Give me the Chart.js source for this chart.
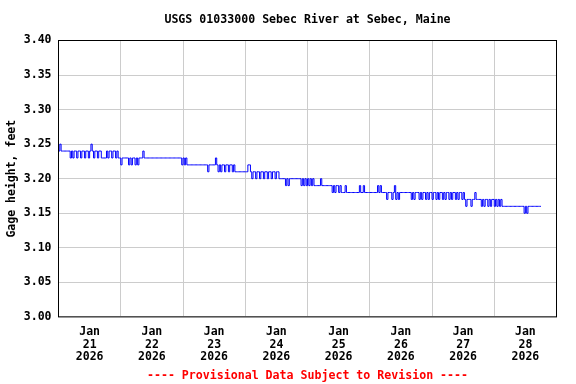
<!DOCTYPE html>
<html><head><meta charset="utf-8">
<script src="https://cdn.jsdelivr.net/npm/chart.js@4"></script>
<style>html,body{margin:0;padding:0;background:#fff}canvas{display:block}</style>
</head><body>
<canvas id="c" width="576" height="384"></canvas>
<script>
// Gage height (feet), 30-minute readings starting at midnight of each day
const jan21 = [3.25,3.24,3.25,3.24,3.24,3.24,3.24,3.24,3.24,3.24,
               3.23,3.24,3.23,3.24,3.24,3.23,3.24,3.24,3.23,3.24,
               3.24,3.23,3.24,3.24,3.23,3.24,3.25,3.24,3.23,3.24,
               3.24,3.23,3.24,3.24,3.23,3.23,3.23,3.23,3.24,3.23,
               3.24,3.24,3.23,3.24,3.24,3.23,3.24,3.23];
const jan22 = [3.23,3.22,3.23,3.23,3.23,3.23,3.23,3.22,3.23,3.22,
               3.23,3.23,3.22,3.23,3.22,3.23,3.23,3.23,3.24,3.23,
               3.23,3.23,3.23,3.23,3.23,3.23,3.23,3.23,3.23,3.23,
               3.23,3.23,3.23,3.23,3.23,3.23,3.23,3.23,3.23,3.23,
               3.23,3.23,3.23,3.23,3.23,3.23,3.23,3.23];
const jan23 = [3.22,3.23,3.22,3.23,3.22,3.22,3.22,3.22,3.22,3.22,
               3.22,3.22,3.22,3.22,3.22,3.22,3.22,3.22,3.22,3.22,
               3.21,3.22,3.22,3.22,3.22,3.22,3.23,3.22,3.21,3.22,
               3.21,3.22,3.22,3.21,3.22,3.22,3.21,3.22,3.22,3.21,
               3.22,3.21,3.21,3.21,3.21,3.21,3.21,3.21];
const jan24 = [3.21,3.21,3.21,3.22,3.22,3.21,3.20,3.21,3.21,3.20,
               3.21,3.21,3.20,3.21,3.21,3.20,3.21,3.21,3.20,3.21,
               3.21,3.20,3.21,3.21,3.20,3.21,3.21,3.20,3.20,3.20,
               3.20,3.20,3.19,3.20,3.19,3.20,3.20,3.20,3.20,3.20,
               3.20,3.20,3.20,3.20,3.19,3.20,3.19,3.20];
const jan25 = [3.19,3.20,3.19,3.20,3.19,3.20,3.19,3.19,3.19,3.19,
               3.19,3.20,3.19,3.19,3.19,3.19,3.19,3.19,3.19,3.19,
               3.18,3.19,3.18,3.19,3.19,3.18,3.19,3.18,3.18,3.18,
               3.19,3.18,3.18,3.18,3.18,3.18,3.18,3.18,3.18,3.18,
               3.18,3.19,3.18,3.18,3.19,3.18,3.18,3.18];
const jan26 = [3.18,3.18,3.18,3.18,3.18,3.18,3.18,3.19,3.18,3.19,
               3.18,3.18,3.18,3.18,3.17,3.18,3.18,3.18,3.17,3.18,
               3.19,3.17,3.18,3.17,3.18,3.18,3.18,3.18,3.18,3.18,
               3.18,3.18,3.18,3.17,3.18,3.17,3.18,3.18,3.18,3.17,
               3.18,3.17,3.18,3.18,3.17,3.18,3.17,3.18];
const jan27 = [3.18,3.17,3.18,3.18,3.17,3.18,3.17,3.18,3.18,3.17,
               3.18,3.17,3.18,3.18,3.17,3.18,3.17,3.18,3.18,3.17,
               3.18,3.17,3.18,3.18,3.17,3.18,3.17,3.16,3.17,3.17,
               3.17,3.16,3.17,3.17,3.18,3.17,3.17,3.17,3.17,3.16,
               3.17,3.16,3.17,3.17,3.16,3.17,3.16,3.17];
const jan28 = [3.17,3.16,3.17,3.16,3.17,3.16,3.17,3.16,3.16,3.16,
               3.16,3.16,3.16,3.16,3.16,3.16,3.16,3.16,3.16,3.16,
               3.16,3.16,3.16,3.16,3.15,3.16,3.15,3.16,3.16,3.16,
               3.16,3.16,3.16,3.16,3.16,3.16,3.16];

const dayNames = ['21','22','23','24','25','26','27','28'];
const monthName = 'Jan';
const yearName = '2026';
const yTicks = [3.00,3.05,3.10,3.15,3.20,3.25,3.30,3.35,3.40];
const xTicks = [0,12,24,36,48,60,72,84,96,108,120,132,144,156,168,180,192];

const days = [jan21,jan22,jan23,jan24,jan25,jan26,jan27,jan28];
const points = [];
days.forEach((vals, d) => vals.forEach((v, i) => points.push({x: d*24 + i*0.5, y: v})));

const FAM = "'DejaVu Sans Mono', monospace";
const frame = {
  id: 'frame',
  afterDraw(chart) {
    const {ctx, chartArea: a} = chart;
    ctx.save();
    ctx.strokeStyle = '#000';
    ctx.lineWidth = 1;
    ctx.strokeRect(a.left, a.top, a.right - a.left, a.bottom - a.top);
    ctx.restore();
  }
};

new Chart(document.getElementById('c'), {
  type: 'line',
  data: { datasets: [{ data: points, borderColor: '#0000ff', borderWidth: 1, pointRadius: 0, stepped: 'after', fill: false }] },
  options: {
    responsive: false, animation: false, devicePixelRatio: 1, events: [],
    layout: { padding: { left: 0, right: 19.5, top: 0, bottom: 0 } },
    plugins: {
      legend: { display: false }, tooltip: { enabled: false },
      title: { display: true, text: 'USGS 01033000 Sebec River at Sebec, Maine', fullSize: false, color: '#000',
               font: { family: FAM, size: 11.6, weight: 'bold', lineHeight: 1.2 }, padding: { top: 13, bottom: 13.58 } },
      subtitle: { display: true, position: 'bottom', text: '---- Provisional Data Subject to Revision ----', fullSize: false, color: '#ff0000',
               font: { family: FAM, size: 11.6, weight: 'bold', lineHeight: 1.2 }, padding: { top: 4, bottom: 1 } }
    },
    scales: {
      x: {
        type: 'linear', min: 0, max: 192,
        afterBuildTicks: s => { s.ticks = xTicks.map(v => ({ value: v })); },
        afterFit: s => { s.height = 384 - 19.4 - 316.5 + 0.08; },
        border: { display: false },
        grid: { drawTicks: false, color: c => (c.tick && c.tick.value % 24 === 0) ? '#cccccc' : 'rgba(0,0,0,0)' },
        ticks: { autoSkip: false, maxRotation: 0, minRotation: 0, padding: 9, color: '#000',
                 font: { family: FAM, size: 11.5, weight: 'bold', lineHeight: 1.08 },
                 callback: v => (v % 24 === 12) ? [monthName, dayNames[(v - 12) / 24], yearName] : '' }
      },
      y: {
        min: 3.0, max: 3.4,
        afterBuildTicks: s => { s.ticks = yTicks.map(v => ({ value: v })); },
        afterFit: s => { s.width = 58.5; },
        border: { display: false },
        grid: { drawTicks: false, color: '#cccccc' },
        ticks: { padding: 7, color: '#000', font: { family: FAM, size: 11.5, weight: 'bold' }, callback: v => Number(v).toFixed(2) },
        title: { display: true, text: 'Gage height, feet', color: '#000', font: { family: FAM, size: 11.5, weight: 'bold', lineHeight: 1.2 }, padding: { top: 5, bottom: 0 } }
      }
    }
  },
  plugins: [frame]
});
</script>
</body></html>
